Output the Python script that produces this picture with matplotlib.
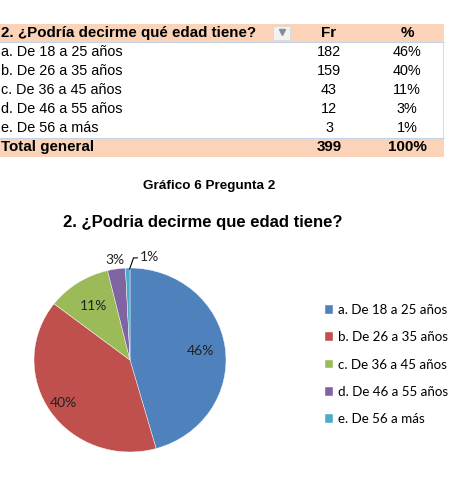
import matplotlib.pyplot as plt
import matplotlib.patches as mpatches
import numpy as np

categories = ['a. De 18 a 25 años', 'b. De 26 a 35 años', 'c. De 36 a 45 años',
              'd. De 46 a 55 años', 'e. De 56 a más']
freq = [182, 159, 43, 12, 3]
pct_labels = ['46%', '40%', '11%', '3%', '1%']
total_freq = 399
total_pct = '100%'

header = '2. ¿Podría decirme qué edad tiene?'
chart_title = '2. ¿Podria decirme que edad tiene?'
caption = 'Gráfico 6 Pregunta 2'

colors = ['#4F81BD', '#C0504D', '#9BBB59', '#8064A2', '#4BACC6']
peach = '#FAD3B8'

W, H = 470, 486
fig = plt.figure(figsize=(W / 100, H / 100), dpi=100)

# overlay axes in pixel coordinates for the table
tab = fig.add_axes([0, 0, 1, 1])
tab.set_xlim(0, W)
tab.set_ylim(H, 0)
tab.axis('off')

tab.add_patch(mpatches.Rectangle((0, 24), 444, 18, color=peach, lw=0))
tab.add_patch(mpatches.Rectangle((0, 138), 444, 19, color=peach, lw=0))
tab.plot([0, 444], [42, 42], color='#C5D3E6', lw=0.8)
tab.plot([0, 444], [138, 138], color='#C5D3E6', lw=0.8)
tab.plot([443, 443], [42, 138], color='#D5DCE6', lw=0.8)

# dropdown button
tab.add_patch(mpatches.Rectangle((273, 26), 17, 14, facecolor='#F2F2F2',
                                 edgecolor='#D8D8D8', lw=0.6))
tab.plot([281.5], [32], marker='v', color='#8C8C8C', ms=4)

fnt = 'Liberation Sans'
bsz, rsz = 10.9, 10.4
tab.text(1, 33, header, fontsize=bsz, fontweight='bold', family=fnt, va='center')
tab.text(329, 33, 'Fr', fontsize=bsz, fontweight='bold', family=fnt, va='center', ha='center')
tab.text(407, 33, '%', fontsize=bsz, fontweight='bold', family=fnt, va='center', ha='center')
for i, (c, f, p) in enumerate(zip(categories, freq, pct_labels)):
    y = 52 + i * 19
    tab.text(1, y, c, fontsize=rsz, family=fnt, va='center')
    tab.text(329, y, str(f), fontsize=rsz, family=fnt, va='center', ha='center')
    tab.text(407, y, p, fontsize=rsz, family=fnt, va='center', ha='center')
tab.text(1, 147, 'Total general', fontsize=bsz, fontweight='bold', family=fnt, va='center')
tab.text(329, 147, str(total_freq), fontsize=bsz, fontweight='bold', family=fnt, va='center', ha='center')
tab.text(407, 147, total_pct, fontsize=bsz, fontweight='bold', family=fnt, va='center', ha='center')

tab.text(209, 186, caption, fontsize=9.7, fontweight='bold', family=fnt, va='center', ha='center')
tab.text(203, 222, chart_title, fontsize=12, fontweight='bold', family=fnt, va='center', ha='center')

# pie (slightly squashed, like the original 3-D look)
cx, cy, rx, ry = 130, 360, 96, 92
ax = fig.add_axes([(cx - rx) / W, (H - cy - ry) / H, 2 * rx / W, 2 * ry / H])
wedges, _ = ax.pie(freq, colors=colors, startangle=90, counterclock=False,
                   wedgeprops=dict(edgecolor='white', linewidth=0.3))
ax.set_aspect('auto')
ax.set_xlim(-1, 1)
ax.set_ylim(-1, 1)
ax.axis('off')

lab_font = 'Lato'
frac = np.array(freq) / sum(freq)
starts = 90 - 360 * np.concatenate([[0], np.cumsum(frac)[:-1]])
mids = starts - 180 * frac
dists = [0.74, 0.84, 0.7, 1.1]
for k in range(4):
    a = np.deg2rad(mids[k])
    ax.text(dists[k] * np.cos(a), dists[k] * np.sin(a), pct_labels[k], fontsize=10,
            family=lab_font, ha='center', va='center', color='#222222')
# leader for the smallest slice
a = np.deg2rad(mids[4])
x0, y0 = np.cos(a), np.sin(a)
ax.plot([x0 + 0.02, x0 + 0.06, x0 + 0.1], [y0 - 0.01, y0 + 0.11, y0 + 0.11],
        color='black', lw=0.8, clip_on=False)
ax.text(x0 + 0.13, y0 + 0.12, pct_labels[4], fontsize=10, family=lab_font,
        ha='left', va='center', color='#222222')

fig.legend(wedges, categories, loc='upper left', bbox_to_anchor=(325 / W, 1 - 304 / H),
           frameon=False, prop={'family': lab_font, 'size': 9.6},
           handlelength=0.62, handleheight=0.62, handletextpad=0.35, labelspacing=1.15,
           borderpad=0, borderaxespad=0)

fig.savefig('out.png', dpi=100)
